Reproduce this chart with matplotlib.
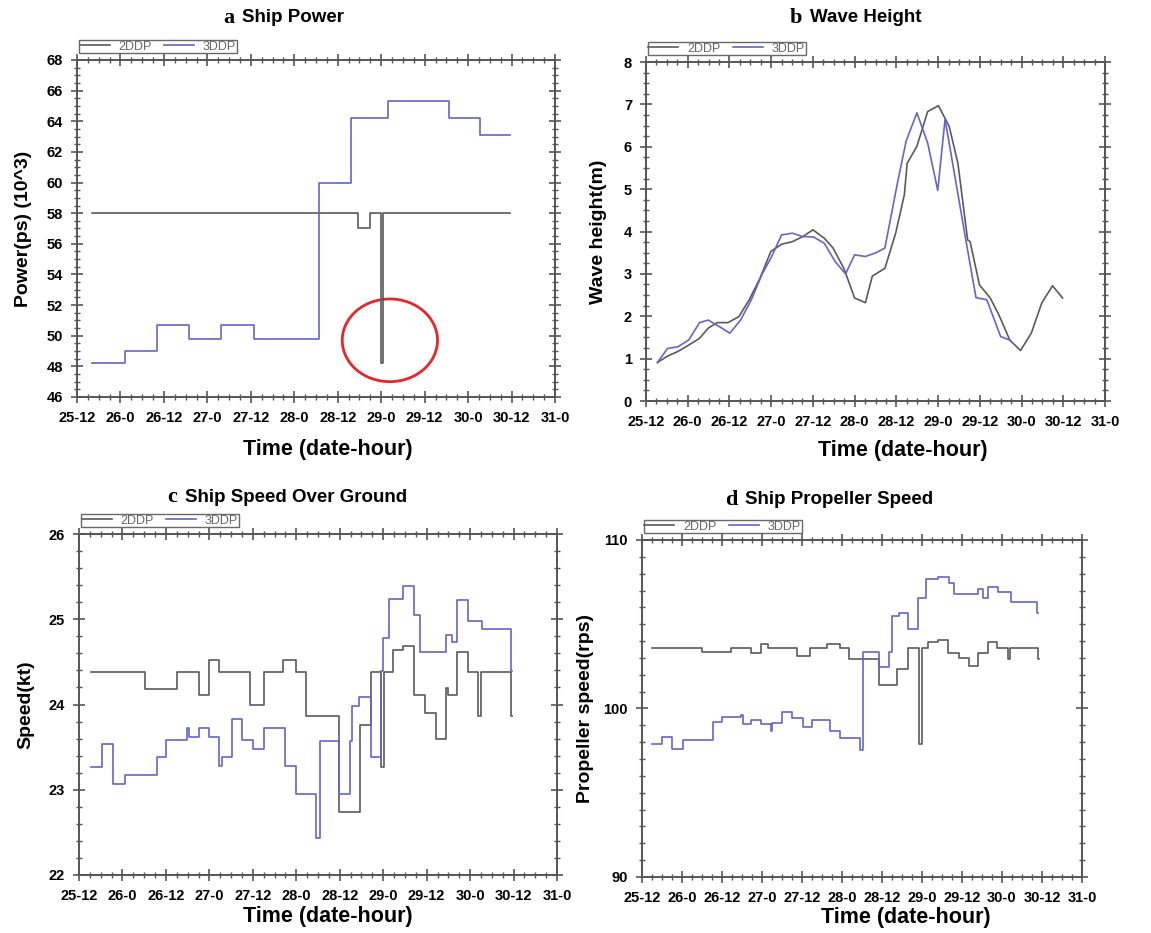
import numpy as np
import matplotlib
matplotlib.use("Agg")
import matplotlib.pyplot as plt
from matplotlib.patches import Ellipse
from matplotlib.ticker import MultipleLocator

# time axis: hours counted from 25-0
tick_hours = [12, 24, 36, 48, 60, 72, 84, 96, 108, 120, 132, 144]
tick_labels = ["25-12", "26-0", "26-12", "27-0", "27-12", "28-0", "28-12",
               "29-0", "29-12", "30-0", "30-12", "31-0"]

# (a) ship power, step series (breakpoint hour, value)
pow_2d_t = [16.2, 89.5, 92.9, 95.9, 96.6, 131.7]
pow_2d_v = [58.0, 57.0, 58.0, 48.2, 58.0, 58.0]
pow_3d_t = [16.2, 25.3, 34.1, 43.0, 51.8, 60.9, 78.7, 87.7, 97.9, 114.8, 123.3, 131.7]
pow_3d_v = [48.2, 49.0, 50.7, 49.8, 50.7, 49.8, 60.0, 64.2, 65.3, 64.2, 63.1, 63.1]

# (b) wave height
wave_2d_t = [15.3, 18.2, 21.2, 24.3, 27.4, 29.9, 32.5, 35.6, 38.7, 41.7, 44.8, 47.9,
             51.0, 54.1, 57.1, 60.0, 63.3, 65.8, 68.9, 72.0, 75.1, 77.1, 80.7, 83.8,
             86.3, 87.1, 89.9, 93.0, 96.1, 99.2, 101.7, 104.5, 105.2, 107.9, 111.0,
             113.5, 116.6, 119.7, 122.8, 125.8, 128.9, 131.8]
wave_2d_v = [0.91, 1.06, 1.17, 1.32, 1.48, 1.72, 1.85, 1.85, 1.99, 2.39, 2.90, 3.53,
             3.70, 3.76, 3.88, 4.04, 3.84, 3.61, 3.13, 2.43, 2.32, 2.95, 3.13, 3.96,
             4.87, 5.61, 6.01, 6.83, 6.97, 6.48, 5.61, 3.80, 3.76, 2.74, 2.43,
             2.03, 1.44, 1.19, 1.60, 2.31, 2.72, 2.43]
wave_3d_t = [15.3, 18.2, 21.2, 24.3, 27.4, 29.9, 33.0, 36.1, 39.2, 42.3, 45.3, 47.9,
             51.0, 54.1, 57.1, 60.2, 63.3, 66.4, 69.4, 72.0, 75.1, 78.2, 80.7, 84.3,
             86.8, 89.9, 93.0, 95.9, 98.0, 101.0, 104.3, 106.9, 110.0, 114.0, 116.6]
wave_3d_v = [0.91, 1.24, 1.28, 1.44, 1.85, 1.91, 1.76, 1.60, 1.91, 2.39, 2.98, 3.37,
             3.92, 3.96, 3.88, 3.87, 3.72, 3.29, 3.00, 3.45, 3.41, 3.50, 3.61, 5.14,
             6.13, 6.80, 6.09, 4.97, 6.65, 5.22, 3.65, 2.44, 2.39, 1.52, 1.44]

# (c) speed over ground, step series
sog_2d_t = [15.4, 30.2, 39.1, 45.2, 48.0, 50.6, 59.3, 63.0, 68.3, 71.9, 74.8, 83.7,
            89.6, 92.5, 95.5, 96.2, 98.7, 101.4, 104.6, 107.5, 110.5, 113.3, 114.0,
            116.4, 119.4, 122.1, 123.1, 131.2, 131.7]
sog_2d_v = [24.38, 24.18, 24.38, 24.11, 24.52, 24.38, 24.00, 24.38, 24.52, 24.38,
            23.86, 22.74, 23.76, 24.38, 23.27, 24.38, 24.64, 24.69, 24.11, 23.90,
            23.59, 24.19, 24.11, 24.62, 24.38, 23.86, 24.38, 23.86, 23.86]
sog_3d_t = [15.4, 18.4, 21.4, 24.6, 33.5, 36.1, 41.7, 42.5, 45.0, 48.0, 50.6, 51.4,
            54.2, 57.1, 60.1, 63.0, 68.9, 71.9, 77.5, 78.5, 83.7, 86.7, 87.4, 89.3,
            92.5, 95.5, 95.9, 97.5, 101.4, 104.4, 106.1, 113.3, 115.0, 116.4, 119.4,
            123.3, 131.2, 131.7]
sog_3d_v = [23.27, 23.54, 23.07, 23.17, 23.38, 23.58, 23.72, 23.62, 23.72, 23.62,
            23.28, 23.38, 23.83, 23.58, 23.48, 23.72, 23.28, 22.95, 22.43, 23.57,
            22.95, 23.57, 23.98, 24.09, 23.38, 24.39, 24.78, 25.24, 25.39, 25.05,
            24.62, 24.82, 24.73, 25.22, 24.98, 24.88, 24.39, 24.39]

# (d) propeller speed, step series
rps_2d_t = [15.0, 30.0, 38.8, 44.7, 47.6, 49.7, 58.6, 62.4, 67.5, 71.5, 74.1, 83.2,
            88.6, 91.8, 95.0, 96.1, 97.9, 100.9, 103.9, 107.1, 110.0, 112.9, 115.9,
            118.6, 121.8, 122.4, 130.9, 131.0]
rps_2d_v = [103.58, 103.34, 103.58, 103.28, 103.83, 103.58, 103.12, 103.58, 103.83,
            103.58, 102.92, 101.40, 102.35, 103.58, 97.91, 103.58, 103.97, 104.07,
            103.28, 102.98, 102.53, 103.32, 103.93, 103.58, 102.92, 103.58, 102.92,
            102.92]
rps_3d_t = [15.0, 17.9, 21.1, 24.3, 33.2, 36.1, 41.8, 42.2, 44.8, 47.7, 50.6, 51.1,
            54.0, 57.0, 60.2, 62.9, 68.3, 71.5, 77.4, 78.2, 83.2, 86.1, 87.0, 89.1,
            91.8, 94.7, 97.2, 100.9, 104.1, 105.7, 112.7, 114.3, 115.9, 118.9, 122.6,
            130.4, 130.9]
rps_3d_v = [97.91, 98.28, 97.59, 98.14, 99.17, 99.49, 99.62, 99.09, 99.29, 99.09,
            98.64, 99.13, 99.78, 99.43, 98.89, 99.29, 98.64, 98.24, 97.51, 103.38,
            102.49, 103.38, 105.51, 105.69, 104.72, 106.58, 107.67, 107.83, 107.43,
            106.80, 107.09, 106.54, 107.19, 106.90, 106.30, 105.65, 105.65]

C2 = "#5a5a5a"
C3 = "#6464cc"
W, H = 1151, 933

fig = plt.figure(figsize=(W / 100, H / 100), dpi=100)
plt.rcParams["font.family"] = ["Liberation Sans", "DejaVu Sans"]


def make_axes(box):
    x0, y0, x1, y1 = box
    return fig.add_axes([x0 / W, 1 - y1 / H, (x1 - x0) / W, (y1 - y0) / H])


def style(ax, ylim, ymaj, ymin, ylabel, ylab_x, xlab_pos):
    ax.set_xlim(12, 144)
    ax.set_ylim(*ylim)
    ax.set_xticks(tick_hours)
    ax.set_xticklabels(tick_labels)
    ax.xaxis.set_minor_locator(MultipleLocator(3))
    ax.yaxis.set_major_locator(MultipleLocator(ymaj))
    ax.yaxis.set_minor_locator(MultipleLocator(ymin))
    ax.tick_params(which="both", direction="inout", top=True, right=True,
                   labelsize=10.5, colors="#555555", labelcolor="black", pad=6)
    ax.tick_params(which="major", length=8, width=1.2)
    ax.tick_params(which="minor", length=4, width=1.0)
    for lab in ax.get_xticklabels() + ax.get_yticklabels():
        lab.set_fontweight("bold")
    for s in ax.spines.values():
        s.set_color("#555555")
        s.set_linewidth(1.4)
    ax.set_ylabel(ylabel, fontsize=14, fontweight="bold")
    ax.yaxis.set_label_coords(ylab_x, 0.5)
    ax.set_xlabel("Time (date-hour)", fontsize=15.5, fontweight="bold", va="top")
    ax.xaxis.set_label_coords(*xlab_pos)
    leg = ax.legend(loc="lower left", bbox_to_anchor=(0.004, 1.02), ncol=2,
                    fontsize=9, handlelength=2.4, columnspacing=1.0,
                    handletextpad=0.7, borderpad=0.05, borderaxespad=0,
                    fancybox=False, edgecolor="#444444", labelcolor="#666666")
    leg.get_frame().set_linewidth(1.0)


def title(x, y, letter, text):
    fig.text(x / W, 1 - y / H, letter, fontsize=16, fontweight="bold",
             family=["Liberation Serif"], ha="right", va="center")
    fig.text((x + 8) / W, 1 - y / H, text, fontsize=13.5, fontweight="bold",
             ha="left", va="center")


# (a)
ax = make_axes((77, 60, 555, 397))
ax.plot(pow_2d_t, pow_2d_v, drawstyle="steps-post", color=C2, lw=1.2, label="2DDP")
ax.plot(pow_3d_t, pow_3d_v, drawstyle="steps-post", color=C3, lw=1.2, label="3DDP")
ax.add_patch(Ellipse((98.4, 49.7), 26.3, 5.4, fill=False, edgecolor="#e8262a", lw=2))
style(ax, (46, 68), 2, 0.5, "Power(ps) (10^3)", -0.094, (0.525, -0.125))
title(234, 18, "a", "Ship Power")

# (b)
ax = make_axes((646, 62, 1105, 401))
ax.plot(wave_2d_t, wave_2d_v, color=C2, lw=1.2, label="2DDP")
ax.plot(wave_3d_t, wave_3d_v, color=C3, lw=1.2, label="3DDP")
style(ax, (0, 8), 1, 0.25, "Wave height(m)", -0.085, (0.56, -0.115))
title(802, 18, "b", "Wave Height")

# (c)
ax = make_axes((79, 534, 557, 875))
ax.plot(sog_2d_t, sog_2d_v, drawstyle="steps-post", color=C2, lw=1.2, label="2DDP")
ax.plot(sog_3d_t, sog_3d_v, drawstyle="steps-post", color=C3, lw=1.2, label="3DDP")
style(ax, (22, 26), 1, 0.2, "Speed(kt)", -0.094, (0.52, -0.09))
title(177, 497, "c", "Ship Speed Over Ground")

# (d)
ax = make_axes((642, 540, 1082, 877))
ax.plot(rps_2d_t, rps_2d_v, drawstyle="steps-post", color=C2, lw=1.2, label="2DDP")
ax.plot(rps_3d_t, rps_3d_v, drawstyle="steps-post", color=C3, lw=1.2, label="3DDP")
style(ax, (90, 110), 10, 1, "Propeller speed(rps)", -0.109, (0.6, -0.088))
title(737, 500, "d", "Ship Propeller Speed")

fig.savefig("out.png", dpi=100)
